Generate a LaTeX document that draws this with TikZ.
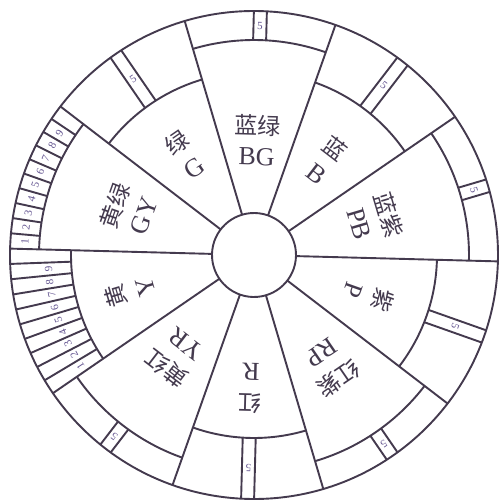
\documentclass[tikz,border=0pt]{standalone}
\usepackage{fontspec}
\setmainfont{Liberation Serif}
\newfontfamily\cjk{Noto Sans CJK SC}
\definecolor{ink}{RGB}{68,58,78}
\definecolor{numink}{RGB}{100,85,145}
\begin{document}
\begin{tikzpicture}[x=1pt,y=1pt,
  ring/.style={draw=ink,line width=1.9pt},
  hue/.style={text=ink,align=center,font=\fontsize{26}{30}\selectfont,inner sep=0pt},
  num/.style={text=numink,font=\fontsize{11}{11}\selectfont,inner sep=0pt}]
\fill[white] (-254,-246) rectangle (246,255);
\useasboundingbox (-254,-246) rectangle (246,255);
\begin{scope}[rotate=-1.5]
  % outer and inner circles
  \draw[ring] (0,0) circle (244);
  \draw[ring] (0,0) circle (42);
  % hue boundaries
  \foreach \t in {0,36,...,324} \draw[ring] (\t:42) -- (\t:244);
  % sectors with their outer arcs and labels
  \foreach \c/\rad/\lr/\zh/\la/\nm in {
      90/215/115/蓝绿/BG/bg, 54/183/119/蓝/B/b, 18/215/126/蓝紫/PB/pb,
      -18/183/122/紫/P/p, -54/215/135/红紫/RP/rp, -90/183/133/红/R/r,
      -126/215/129/黄红/YR/yr, -162/183/130/黄/Y/y, 162/215/133/黄绿/GY/gy,
      126/183/122/绿/G/g}{
    \draw[ring] (\c-18:\rad) arc[start angle=\c-18, end angle=\c+18, radius=\rad];
    \node[hue, rotate=\c-91.5] (\nm) at (\c:\lr) {{\cjk\fontsize{23}{30}\selectfont \zh}\\[1pt]\la};
  }
  % middle-hue strips marked 5
  \foreach \c/\rad/\nm in {90/215/bg, 54/183/b, 18/215/pb, -18/183/p,
      -54/215/rp, -90/183/r, -126/215/yr, 126/183/g}{
    \begin{scope}[rotate=\c]
      \draw[ring] (\rad,6.5) -- (243.9,6.5);
      \draw[ring] (\rad,-6.5) -- (243.9,-6.5);
    \end{scope}
    \node[num, rotate=\c-91.5] (five\nm) at (\c:{(\rad+244)/2}) {5};
  }
  % scale of GY
  \foreach \k in {1,...,9}{
    \draw[ring] ({180-3.6*\k}:215) -- ({180-3.6*\k}:244);
    \node[num, rotate={180-3.6*\k+1.8-91.5}] (gyn\k) at ({180-3.6*\k+1.8}:229.5) {\k};
  }
  % scale of Y
  \foreach \k in {1,...,9}{
    \draw[ring] ({216-3.6*\k}:183) -- ({216-3.6*\k}:244);
    \node[num, rotate={216-3.6*\k+1.8-91.5}] (yn\k) at ({216-3.6*\k+1.8}:206) {\k};
  }
\end{scope}
\end{tikzpicture}
\end{document}
